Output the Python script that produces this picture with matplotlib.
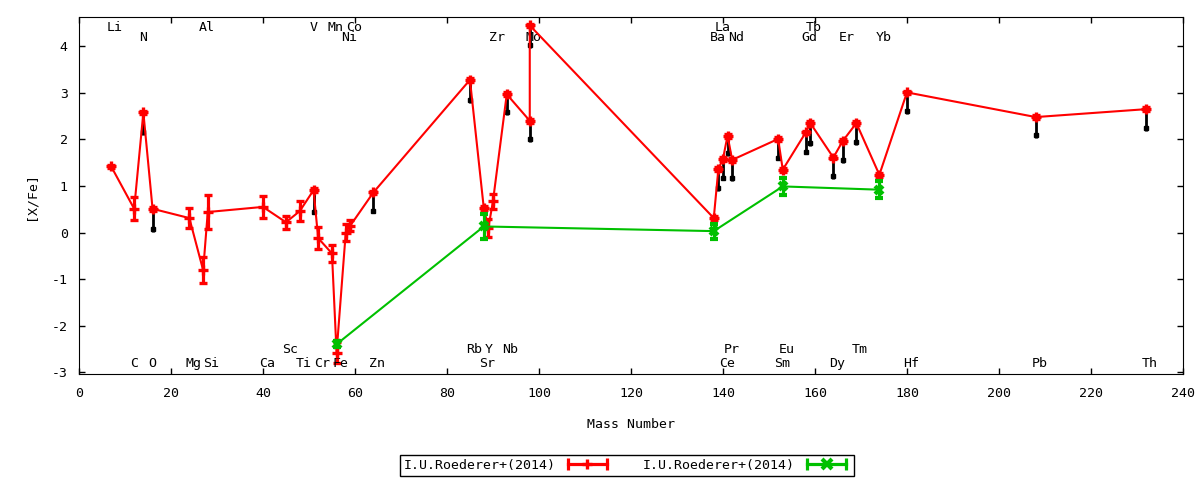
import matplotlib
matplotlib.use("Agg")
import matplotlib.pyplot as plt
import matplotlib.transforms as mtransforms
from matplotlib.lines import Line2D
from matplotlib.legend_handler import HandlerLine2D, HandlerTuple

plt.rcParams['font.family'] = ['DejaVu Sans Mono', 'DejaVu Sans']
plt.rcParams['font.size'] = 9.5
plt.rcParams['axes.unicode_minus'] = False

# I.U.Roederer+(2014), red series (mass number, [X/Fe], error)
red_mass = [7, 12, 14, 16, 24, 27, 28, 40, 45, 48, 51, 52, 55, 56, 58, 59, 64,
            85, 88, 89, 90, 93, 98, 98, 138, 139, 140, 141, 142, 152, 153,
            158, 159, 164, 166, 169, 174, 180, 208, 232]
red_val = [1.42, 0.51, 2.58, 0.51, 0.31, -0.81, 0.44, 0.55, 0.22, 0.46, 0.91,
           -0.12, -0.45, -2.58, 0.00, 0.15, 0.86, 3.28, 0.53, 0.10, 0.67,
           2.97, 2.40, 4.45, 0.31, 1.36, 1.58, 2.08, 1.56, 2.01, 1.35, 2.15,
           2.35, 1.61, 1.96, 2.35, 1.24, 3.01, 2.48, 2.65]
red_err = [0.03, 0.25, 0.04, 0.04, 0.21, 0.28, 0.36, 0.23, 0.14, 0.21, 0.04,
           0.23, 0.19, 0.23, 0.19, 0.12, 0.04, 0.04, 0.04, 0.19, 0.16, 0.04,
           0.04, 0.04, 0.04, 0.04, 0.04, 0.04, 0.04, 0.04, 0.04, 0.04, 0.04,
           0.04, 0.04, 0.04, 0.04, 0.04, 0.04, 0.04]
# lower black marks hanging below some red points (None = no mark)
red_low = [None, None, 2.15, 0.08, None, None, None, None, None, None, 0.45,
           None, None, None, None, None, 0.47, 2.85, None, None, None, 2.58,
           2.01, 4.03, None, 0.96, 1.18, 1.71, 1.17, 1.61, None, 1.74, 1.92,
           1.22, 1.55, 1.94, None, 2.60, 2.10, 2.25]

# I.U.Roederer+(2014), green series
green_mass = [56, 88, 138, 153, 174]
green_val = [-2.40, 0.13, 0.03, 0.99, 0.92]
green_err = [0.06, 0.26, 0.16, 0.18, 0.18]

# element labels: name, mass number, row (0/1 top, 2/3 bottom)
elem_name = ['Li', 'C', 'N', 'O', 'Mg', 'Al', 'Si', 'Ca', 'Sc', 'Ti', 'V', 'Cr',
             'Mn', 'Fe', 'Co', 'Ni', 'Zn', 'Rb', 'Sr', 'Y', 'Zr', 'Nb', 'Mo',
             'Ba', 'La', 'Ce', 'Pr', 'Nd', 'Sm', 'Eu', 'Gd', 'Tb', 'Dy', 'Er',
             'Tm', 'Yb', 'Hf', 'Pb', 'Th']
elem_mass = [7, 12, 14, 16, 24, 27, 28, 40, 45, 48, 51, 52, 55, 56, 59, 58, 64,
             85, 88, 89, 90, 93, 98, 138, 139, 140, 141, 142, 152, 153, 158,
             159, 164, 166, 169, 174, 180, 208, 232]
elem_row = [0, 3, 1, 3, 3, 0, 3, 3, 2, 3, 0, 3, 0, 3, 0, 1, 3, 2, 3, 2, 1, 2, 1,
            1, 0, 3, 2, 1, 3, 2, 1, 0, 3, 1, 2, 1, 3, 3, 3]
row_y = [0.970, 0.942, 0.069, 0.030]

fig = plt.figure(figsize=(12, 4.8), dpi=100)
ax = fig.add_axes([0.0658, 0.2208, 0.92, 0.7438])

# black hanging marks
low_x = [m for m, lo in zip(red_mass, red_low) if lo is not None]
low_y = [lo for lo in red_low if lo is not None]
low_top = [v for v, lo in zip(red_val, red_low) if lo is not None]
ax.vlines(low_x, [y - 0.06 for y in low_y], low_top, colors='black', lw=2, zorder=2)
ax.plot(low_x, low_y, 's', color='black', ms=3, zorder=2)

ax.errorbar(red_mass, red_val, yerr=red_err, color='#ff0000', lw=1.5,
            marker='+', ms=7, mew=2.4, elinewidth=2.3, capsize=3, capthick=2.3,
            zorder=3)
ax.errorbar(green_mass, green_val, yerr=green_err, color='#00c000', lw=1.5,
            marker='x', ms=6, mew=3, elinewidth=2.3, capsize=3, capthick=2.3,
            zorder=4)

trans = mtransforms.blended_transform_factory(ax.transData, ax.transAxes)
for name, m, r in zip(elem_name, elem_mass, elem_row):
    ax.text(m - 0.9, row_y[r], name, transform=trans, ha='left', va='center')

ax.set_xlim(0, 240)
ax.set_ylim(-3.04, 4.63)
ax.set_xticks(range(0, 241, 20))
ax.set_yticks(range(-3, 5))
ax.tick_params(direction='in', length=4.5, top=True, right=True, width=1)
ax.tick_params(axis='x', pad=9)
ax.tick_params(axis='y', pad=8)
ax.set_xlabel('Mass Number', labelpad=13)
ax.set_ylabel('[X/Fe]', labelpad=10)

# gnuplot-like legend samples: line with end caps and a point in the middle
def sample(color, mk, mew):
    caps = Line2D([], [], color=color, lw=2.3, marker='|', ms=8, mew=2.3)
    pt = Line2D([], [], color=color, ls='none', marker=mk, ms=7, mew=mew)
    return caps, pt

r_caps, r_pt = sample('#ff0000', '+', 2.4)
g_caps, g_pt = sample('#00c000', 'x', 3)
hmap = {r_caps: HandlerLine2D(numpoints=2), g_caps: HandlerLine2D(numpoints=2),
        r_pt: HandlerLine2D(numpoints=1), g_pt: HandlerLine2D(numpoints=1),
        tuple: HandlerTuple(ndivide=1)}
leg = fig.legend([(r_caps, r_pt), (g_caps, g_pt)],
                 ['I.U.Roederer+(2014)', 'I.U.Roederer+(2014)'],
                 handler_map=hmap, loc='center', bbox_to_anchor=(0.5225, 0.030),
                 ncol=2, markerfirst=False, handlelength=3.6, columnspacing=2.4,
                 handletextpad=0.6, borderpad=0.3, borderaxespad=0.2,
                 fancybox=False, edgecolor='black', framealpha=1)
leg.get_frame().set_linewidth(1)

fig.savefig('out.png', dpi=100)
